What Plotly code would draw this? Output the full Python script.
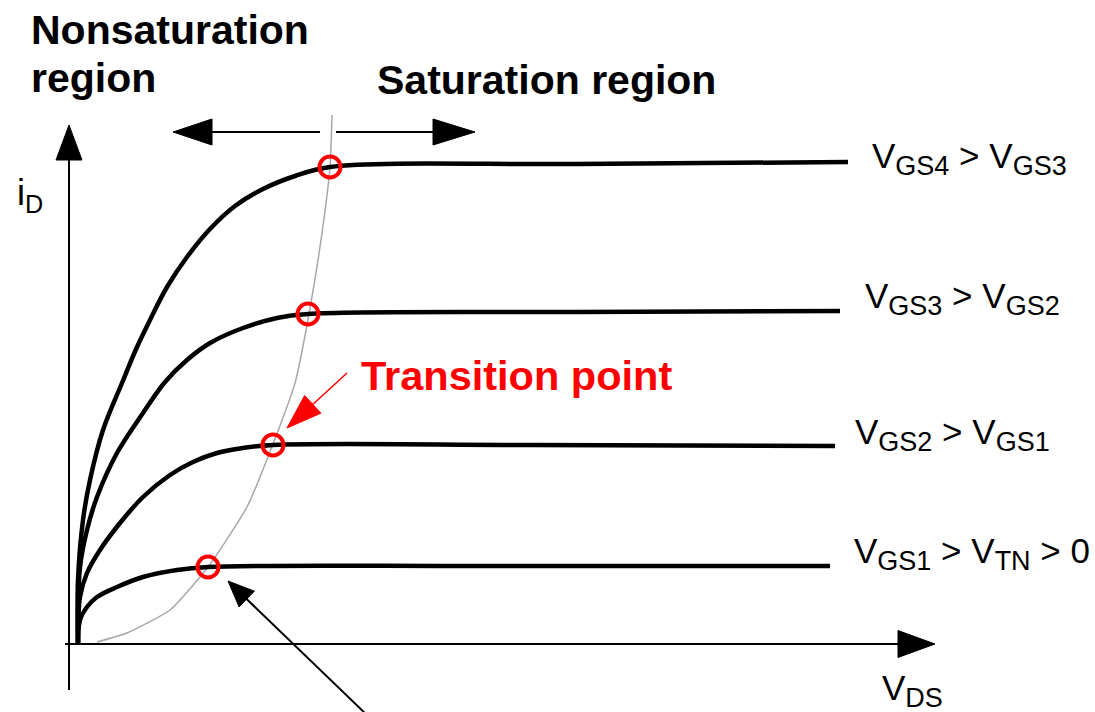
import math
import plotly.graph_objects as go

# ---------------- data (V_DS, i_D in arbitrary units) ----------------
curve1_x = [0, 0.02, 0.09, 0.19, 0.39, 0.65, 0.99, 1.30, 4.0, 7.52]
curve1_y = [0, 0.24, 0.37, 0.47, 0.57, 0.67, 0.74, 0.77, 0.78, 0.78]

curve2_x = [0, 0.02, 0.09, 0.22, 0.42, 0.65, 0.92, 1.15, 1.39, 1.65, 1.95, 4.5, 7.57]
curve2_y = [0, 0.47, 0.71, 0.94, 1.21, 1.47, 1.69, 1.82, 1.91, 1.96, 1.99, 1.99, 1.98]

curve3_x = [0, 0.0, 0.02, 0.09, 0.19, 0.39, 0.65, 0.87, 1.09, 1.32, 1.65, 1.99, 2.30, 5.0, 7.62]
curve3_y = [0, 0.31, 0.77, 1.14, 1.47, 1.91, 2.31, 2.62, 2.84, 3.01, 3.16, 3.26, 3.30, 3.32, 3.33]

curve4_x = [0, 0.0, 0.05, 0.12, 0.25, 0.44, 0.59, 0.72, 0.89, 1.09, 1.32, 1.57, 1.85, 2.17, 2.52, 5.0, 7.70]
curve4_y = [0, 0.64, 1.24, 1.64, 2.14, 2.61, 2.97, 3.24, 3.57, 3.87, 4.15, 4.38, 4.55, 4.68, 4.77, 4.80, 4.82]

boundary_x = [0.19, 0.49, 0.92, 1.30, 1.69, 1.95, 2.17, 2.31, 2.44, 2.52, 2.54]
boundary_y = [0.02, 0.11, 0.34, 0.77, 1.37, 2.00, 2.61, 3.30, 4.11, 4.77, 5.29]

transition_x = [1.30, 1.95, 2.30, 2.52]
transition_y = [0.77, 1.99, 3.30, 4.77]

SUB = '<sub><span style="font-size:27px">{}</span></sub>'
curve_labels = [
    "V" + SUB.format("GS1") + " &gt; V" + SUB.format("TN") + " &gt; 0",
    "V" + SUB.format("GS2") + " &gt; V" + SUB.format("GS1"),
    "V" + SUB.format("GS3") + " &gt; V" + SUB.format("GS2"),
    "V" + SUB.format("GS4") + " &gt; V" + SUB.format("GS3"),
]

# ---------------- layout constants ----------------
X_RANGE = [-0.78, 10.17]
Y_RANGE = [-0.68, 6.44]
PX = 100.0  # pixels per data unit (both axes)

fig = go.Figure()


def arrow(fig, tail, tip, color, lw, head_len, head_w):
    dx, dy = tip[0] - tail[0], tip[1] - tail[1]
    d = math.hypot(dx, dy)
    ux, uy = dx / d, dy / d
    nx, ny = -uy, ux
    L, W = head_len / PX, head_w / PX / 2
    bx, by = tip[0] - ux * L, tip[1] - uy * L
    fig.add_trace(go.Scatter(x=[tail[0], bx + ux * 0.02], y=[tail[1], by + uy * 0.02],
                             mode="lines", line=dict(color=color, width=lw),
                             hoverinfo="skip", showlegend=False))
    fig.add_trace(go.Scatter(x=[tip[0], bx + nx * W, bx - nx * W, tip[0]],
                             y=[tip[1], by + ny * W, by - ny * W, tip[1]],
                             mode="lines", fill="toself", fillcolor=color,
                             line=dict(color=color, width=1),
                             hoverinfo="skip", showlegend=False))


# axes
arrow(fig, (-0.09, -0.46), (-0.09, 5.19), "black", 2, 35, 26)
arrow(fig, (-0.13, 0.0), (8.57, 0.0), "black", 2, 37, 27)

# top region arrows
arrow(fig, (2.42, 5.12), (0.95, 5.12), "black", 2, 39, 26)
arrow(fig, (2.58, 5.12), (3.97, 5.12), "black", 2, 42, 26)

# boundary curve
fig.add_trace(go.Scatter(x=boundary_x, y=boundary_y, mode="lines",
                         line=dict(color="#a8a8a8", width=1.5, shape="spline", smoothing=0.5),
                         hoverinfo="skip", showlegend=False))

# characteristic curves
for cx, cy in [(curve1_x, curve1_y), (curve2_x, curve2_y), (curve3_x, curve3_y), (curve4_x, curve4_y)]:
    fig.add_trace(go.Scatter(x=cx, y=cy, mode="lines",
                             line=dict(color="black", width=4.5, shape="spline", smoothing=1.0),
                             hoverinfo="skip", showlegend=False))

# pointer arrows
arrow(fig, (2.90, -0.72), (1.50, 0.63), "black", 2, 26, 22)
arrow(fig, (2.69, 2.71), (2.09, 2.16), "#ff0000", 1.5, 35, 24)

# transition points
fig.add_trace(go.Scatter(x=transition_x, y=transition_y, mode="markers",
                         marker=dict(symbol="circle-open", size=21, color="#ff0000",
                                     line=dict(width=4, color="#ff0000")),
                         hoverinfo="skip", showlegend=False))

FAM = "Liberation Sans, Arial, sans-serif"
BOLD = dict(family=FAM, size=41, color="black")
REG = dict(family=FAM, size=35, color="black")

texts = [
    ("<b>Nonsaturation</b>", -0.49, 6.14, BOLD),
    ("<b>region</b>", -0.49, 5.66, BOLD),
    ("<b>Saturation region</b>", 2.97, 5.64, BOLD),
    ("<b>Transition point</b>", 2.81, 2.69, dict(BOLD, color="#ff0000", size=41.5)),
    ("i<sub>D</sub>", -0.63, 4.49, dict(REG, size=36)),
    ("V" + SUB.format("DS"), 8.02, -0.46, REG),
]
label_pos = [(7.74, 0.91), (7.75, 2.10), (7.85, 3.46), (7.92, 4.86)]
for lab, (lx, ly) in zip(curve_labels, label_pos):
    texts.append((lab, lx, ly, REG))

for t, x, y, f in texts:
    fig.add_annotation(text=t, x=x, y=y, xref="x", yref="y", xanchor="left", yanchor="middle",
                       showarrow=False, font=f)

fig.update_layout(
    width=1095, height=712, margin=dict(l=0, r=0, t=0, b=0),
    paper_bgcolor="white", plot_bgcolor="white",
    xaxis=dict(range=X_RANGE, visible=False, fixedrange=True),
    yaxis=dict(range=Y_RANGE, visible=False, fixedrange=True),
    showlegend=False,
)

fig.write_html("out.html", config={"displayModeBar": False},
               post_script="document.body.style.margin='0';document.body.style.overflow='hidden';")
